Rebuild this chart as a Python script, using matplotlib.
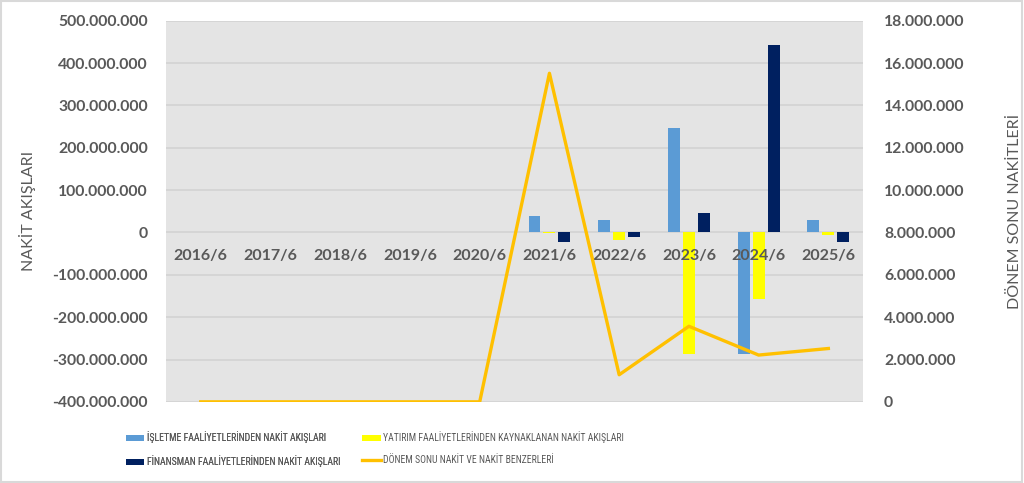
import matplotlib
matplotlib.use("Agg")
import matplotlib.pyplot as plt
import numpy as np
from matplotlib.patches import Rectangle
from matplotlib.ticker import FuncFormatter, MultipleLocator
import matplotlib.transforms as mtransforms

plt.rcParams.update({"font.family": ["Lato", "DejaVu Sans"], "axes.unicode_minus": False})

years = ["2016/6", "2017/6", "2018/6", "2019/6", "2020/6",
         "2021/6", "2022/6", "2023/6", "2024/6", "2025/6"]
isletme = [0, 0, 0, 0, 0, 38e6, 29e6, 246e6, -287e6, 29e6]
yatirim = [0, 0, 0, 0, 0, -0.8e6, -17e6, -288e6, -158e6, -5e6]
finansman = [0, 0, 0, 0, 0, -22e6, -11e6, 45e6, 442e6, -22e6]
donem_sonu = [0, 0, 0, 0, 0, 15.52e6, 1.28e6, 3.57e6, 2.21e6, 2.52e6]

labels = ["İŞLETME FAALİYETLERİNDEN NAKİT AKIŞLARI",
          "YATIRIM FAALİYETLERİNDEN KAYNAKLANAN NAKİT AKIŞLARI",
          "FİNANSMAN FAALİYETLERİNDEN NAKİT AKIŞLARI",
          "DÖNEM SONU NAKİT VE NAKİT BENZERLERİ"]

GREY = "#595959"
dots = FuncFormatter(lambda v, _: f"{v:,.0f}".replace(",", "."))

fig = plt.figure(figsize=(10.24, 4.83), dpi=100)
fig.patches.append(Rectangle((0.001, 0.002), 0.997, 0.995, transform=fig.transFigure,
                             fill=False, ec="#d9d9d9", lw=1.5))
ax = fig.add_axes([0.162, 0.168, 0.681, 0.789])
ax.set_facecolor("#e4e4e4")
x = np.arange(len(years))
w, off = 0.17, 0.215
b1 = ax.bar(x - off, isletme, w, color="#5b9bd5", label=labels[0], zorder=2)
b2 = ax.bar(x, yatirim, w, color="#ffff00", label=labels[1], zorder=2)
b3 = ax.bar(x + off, finansman, w, color="#002060", label=labels[2], zorder=2)
ax.set_xlim(-0.5, len(years) - 0.5)
ax.set_ylim(-400e6, 500e6)
ax.yaxis.set_major_locator(MultipleLocator(100e6))
ax.yaxis.set_major_formatter(dots)
ax.grid(axis="y", color="#d2d2d2", lw=1.2, zorder=0)
ax.set_axisbelow(True)
ax.set_xticks([])
for s in ax.spines.values():
    s.set_visible(False)
ax.tick_params(axis="y", length=0, labelsize=11.3, labelcolor=GREY, pad=13)
for t in ax.get_yticklabels():
    t.set_fontweight("bold")
ax.set_ylabel("NAKİT AKIŞLARI", fontsize=11.5, color=GREY, labelpad=12)

# category labels sit just below the zero line
offs = mtransforms.offset_copy(ax.transData, fig=fig, x=0, y=-17, units="points")
for i, yl in enumerate(years):
    ax.text(i, 0, yl, transform=offs, ha="center", va="center", fontsize=11.5,
            fontweight="bold", color=GREY, zorder=3)

ax2 = ax.twinx()
ln, = ax2.plot(x, donem_sonu, color="#ffc000", lw=2.4, label=labels[3], zorder=4)
ax2.set_ylim(0, 18e6)
ax2.yaxis.set_major_locator(MultipleLocator(2e6))
ax2.yaxis.set_major_formatter(dots)
for s in ax2.spines.values():
    s.set_visible(False)
ax2.tick_params(axis="y", length=0, labelsize=11.3, labelcolor=GREY, pad=15)
for t in ax2.get_yticklabels():
    t.set_fontweight("bold")
ax2.set_ylabel("DÖNEM SONU NAKİTLERİ", fontsize=11.5, color=GREY, labelpad=31)

# two legend columns placed separately, like the Excel layout
leg_kw = dict(loc="upper left", frameon=False, labelcolor=GREY,
              prop={"family": ["Roboto Condensed", "Liberation Sans Narrow", "Roboto"], "size": 7},
              handlelength=1.9, handleheight=0.6, handletextpad=0.25,
              labelspacing=1.25, borderaxespad=0, borderpad=0)
leg1 = fig.legend([b1, b3], [labels[0], labels[2]], bbox_to_anchor=(0.123, 0.107), **leg_kw)
fig.legend([b2, ln], [labels[1], labels[3]], bbox_to_anchor=(0.354, 0.107), **leg_kw)
fig.add_artist(leg1)

fig.savefig("out.png", dpi=100)
